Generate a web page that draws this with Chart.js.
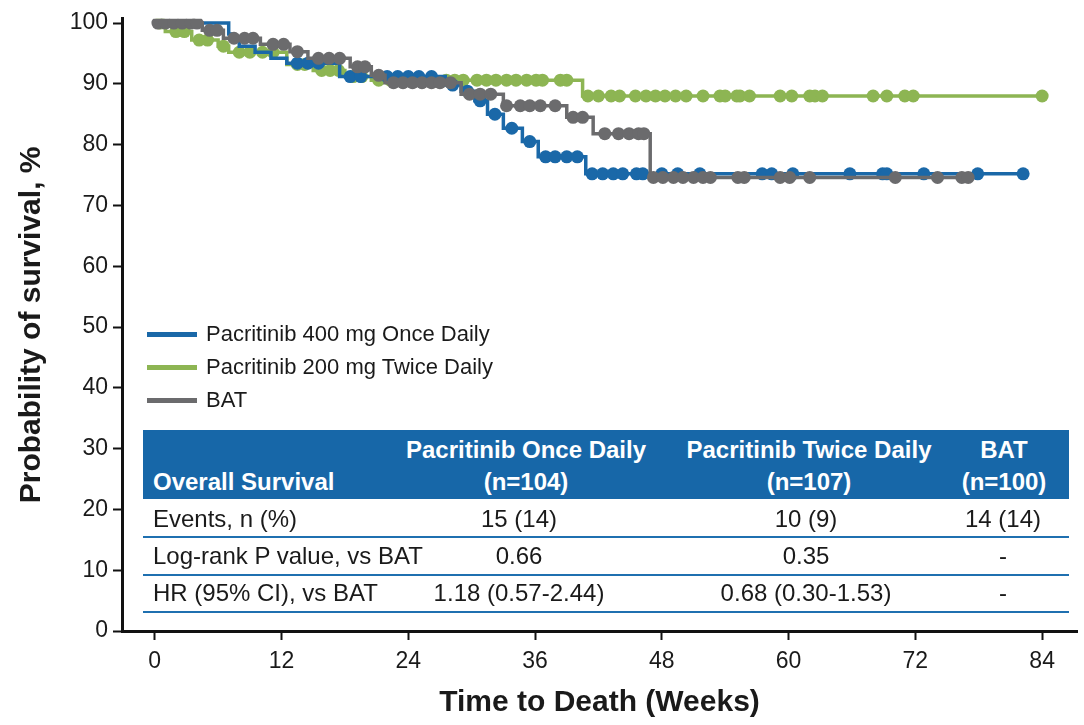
<!DOCTYPE html>
<html>
<head>
<meta charset="utf-8">
<script src="https://cdn.jsdelivr.net/npm/chart.js@4"></script>
<style>
  body { margin: 0; background: #fff; }
  #wrap { position: relative; width: 1084px; height: 725px; font-family: "Liberation Sans", Arial, sans-serif; color: #1a1a1a; }
  #km { position: absolute; left: 0; top: 0; }
  .abs { position: absolute; white-space: nowrap; line-height: 1; }
  .c { transform: translate(-50%, -50%); }
  .l { transform: translate(0, -50%); }
  .hd { color: #fff; font-weight: bold; font-size: 24px; }
  .bd { font-size: 24px; }
  .lg { font-size: 22px; }
</style>
</head>
<body>
<div id="wrap">
  <canvas id="km" width="1084" height="725"></canvas>
</div>
<script>
const xTicks = [0, 12, 24, 36, 48, 60, 72, 84];
const yTicks = [0, 10, 20, 30, 40, 50, 60, 70, 80, 90, 100];

// Pacritinib 400 mg once daily
const qdEventWeeks = [0, 7.0, 7.4, 8.0, 9.5, 11.0, 12.5, 17.5, 27.5, 29.0, 30.3, 31.5, 33.0, 34.8, 36.3, 40.8];
const qdEventSurv  = [100, 98.2, 97.0, 96.2, 95.2, 94.2, 93.4, 91.2, 89.8, 88.8, 87.2, 85.0, 82.7, 80.5, 78.0, 75.2];
const qdCensorWeeks = [13.5, 14.5, 15.5, 18.5, 19.5, 22, 23, 24, 25, 26.2, 28.2, 29.6, 30.8, 32.2, 33.8, 35.5,
  37, 37.9, 39, 40, 41.4, 42.4, 43.4, 44.3, 45.6, 46.2, 48, 49.5, 51.6, 57.5, 58.4, 60.4, 65.8, 68.9, 69.3, 72.8, 77.9, 82.2];

// Pacritinib 200 mg twice daily
const bidEventWeeks = [0, 1.0, 3.5, 6.0, 7.0, 12.5, 15.0, 18.0, 20.5, 40.5];
const bidEventSurv  = [100, 98.6, 97.2, 96.2, 95.2, 93.2, 92.2, 91.2, 90.6, 88.0];
const bidCensorWeeks = [0.5, 2.0, 2.8, 4.2, 5.0, 6.5, 8.0, 9.0, 10.2, 11.2, 13.5, 14.2, 15.8, 16.6, 17.4, 18.8, 19.6,
  21.2, 22.3, 23.6, 25.0, 26.4, 27.6, 28.4, 29.2, 30.5, 31.4, 32.3, 33.3, 34.2, 35.2, 36.1, 36.7, 38.4, 39.0,
  41.0, 42.0, 43.2, 44.0, 45.5, 46.5, 47.4, 48.3, 49.3, 50.3, 51.9, 53.5, 54.0, 55.1, 55.4, 56.3, 59.2, 60.3,
  62.0, 62.5, 63.2, 68.0, 69.3, 71.0, 71.8, 84.0];

// BAT
const batEventWeeks = [0, 4.5, 6.5, 10.0, 12.8, 14.5, 18.5, 20.5, 21.8, 29.0, 33.0, 39.0, 41.5, 46.9];
const batEventSurv  = [100, 98.8, 97.5, 96.5, 95.3, 94.2, 92.8, 91.4, 90.2, 88.3, 86.4, 84.5, 81.8, 74.6];
const batCensorWeeks = [0.3, 1.0, 1.8, 2.6, 3.4, 4.0, 5.2, 5.9, 7.5, 8.5, 9.3, 11.2, 12.2, 13.5, 15.5, 16.5, 17.5,
  19.2, 19.9, 21.2, 22.6, 23.5, 24.4, 25.3, 26.2, 27.0, 28.0, 29.8, 30.8, 31.8, 33.3, 34.6, 35.5, 36.5, 37.9,
  39.6, 40.5, 42.6, 43.9, 44.9, 45.8, 46.3, 47.2, 48.1, 49.1, 50.0, 51.0, 51.9, 52.6, 55.2, 55.8, 59.2, 60.1,
  62.0, 70.1, 74.1, 76.4, 77.0];

const armLabels = ['Pacritinib 400 mg Once Daily', 'Pacritinib 200 mg Twice Daily', 'BAT'];
const armColors = ['#1a68a8', '#8db553', '#6b6b6d'];

// table
const tableCols = ['Pacritinib Once Daily', 'Pacritinib Twice Daily', 'BAT'];
const tableN = ['(n=104)', '(n=107)', '(n=100)'];
const rowLabels = ['Events, n (%)', 'Log-rank P value, vs BAT', 'HR (95% CI), vs BAT'];
const rowValues = [
  ['15 (14)', '10 (9)', '14 (14)'],
  ['0.66', '0.35', '-'],
  ['1.18 (0.57-2.44)', '0.68 (0.30-1.53)', '-']
];

// survival at time t from the step function
function survAt(weeks, surv, t) {
  let s = surv[0];
  for (let i = 0; i < weeks.length; i++) {
    if (weeks[i] <= t) s = surv[i];
  }
  return s;
}

function kmPoints(weeks, surv, censors) {
  const pts = weeks.map((w, i) => ({ x: w, y: surv[i], c: false }));
  censors.forEach(t => pts.push({ x: t, y: survAt(weeks, surv, t), c: true }));
  pts.sort((a, b) => a.x - b.x);
  return pts;
}

function kmDataset(i, pts, order) {
  return {
    label: armLabels[i],
    data: pts,
    borderColor: armColors[i],
    backgroundColor: armColors[i],
    borderWidth: 3.5,
    stepped: true,
    pointRadius: ctx => (ctx.raw && ctx.raw.c ? 6.5 : 0),
    pointBorderWidth: 0,
    pointHoverRadius: 0,
    order: order
  };
}

Chart.defaults.font.family = '"Liberation Sans", Arial, sans-serif';
Chart.defaults.color = '#1a1a1a';

const ctx = document.getElementById('km');
new Chart(ctx.getContext('2d'), {
  type: 'line',
  data: {
    datasets: [
      kmDataset(0, kmPoints(qdEventWeeks, qdEventSurv, qdCensorWeeks), 1),
      kmDataset(1, kmPoints(bidEventWeeks, bidEventSurv, bidCensorWeeks), 2),
      kmDataset(2, kmPoints(batEventWeeks, batEventSurv, batCensorWeeks), 0)
    ]
  },
  options: {
    responsive: false,
    animation: false,
    events: [],
    layout: { padding: { left: 0, top: 16, right: 7, bottom: 0 } },
    plugins: { legend: { display: false }, tooltip: { enabled: false } },
    scales: {
      x: {
        type: 'linear',
        min: -3.1,
        max: 87.3,
        afterBuildTicks: s => { s.ticks = xTicks.map(v => ({ value: v })); },
        afterFit: s => { s.height = 94; },
        grid: { drawOnChartArea: false, drawTicks: true, tickLength: 9, tickWidth: 2, tickColor: '#111' },
        border: { color: '#111', width: 3 },
        ticks: { font: { size: 23 }, color: '#1a1a1a', padding: 8 },
        title: { display: true, text: 'Time to Death (Weeks)', font: { size: 30, weight: 'bold' }, color: '#1a1a1a', padding: { bottom: 4 } }
      },
      y: {
        min: 0,
        max: 100.7,
        afterBuildTicks: s => { s.ticks = yTicks.map(v => ({ value: v })); },
        afterFit: s => { s.width = 122; },
        grid: { drawOnChartArea: false, drawTicks: true, tickLength: 9, tickWidth: 2, tickColor: '#111' },
        border: { color: '#111', width: 3 },
        ticks: { font: { size: 23 }, color: '#1a1a1a', padding: 5 },
        title: { display: true, text: 'Probability of survival, %', font: { size: 30, weight: 'bold' }, color: '#1a1a1a', padding: { top: 14 } }
      }
    }
  }
});

// legend and table overlay (html text)
const wrap = document.getElementById('wrap');
function addDiv(cls, x, y, text, style) {
  const d = document.createElement('div');
  d.className = 'abs ' + cls;
  d.style.left = x + 'px';
  d.style.top = y + 'px';
  if (text != null) d.textContent = text;
  if (style) Object.assign(d.style, style);
  wrap.appendChild(d);
  return d;
}

const legendY = [334, 367, 400];
armLabels.forEach((lab, i) => {
  addDiv('', 147, legendY[i] - 2.5, null, { width: '50px', height: '5px', background: armColors[i] });
  addDiv('l lg', 206, legendY[i], lab);
});

addDiv('', 143, 430, null, { width: '926px', height: '69px', background: '#1767a8' });
addDiv('l hd', 153, 482, 'Overall Survival');
const headCx = [526, 809, 1004];
const valueCx = [519, 806, 1003];
tableCols.forEach((c, j) => {
  addDiv('c hd', headCx[j], 450, c);
  addDiv('c hd', headCx[j], 482, tableN[j]);
});
const rowY = [519, 556, 593];
const lineY = [536, 574, 611];
rowLabels.forEach((r, i) => {
  addDiv('l bd', 153, rowY[i], r);
  rowValues[i].forEach((v, j) => addDiv('c bd', valueCx[j], rowY[i], v));
  addDiv('', 143, lineY[i], null, { width: '926px', height: '2px', background: '#1f70b0' });
});
</script>
</body>
</html>
